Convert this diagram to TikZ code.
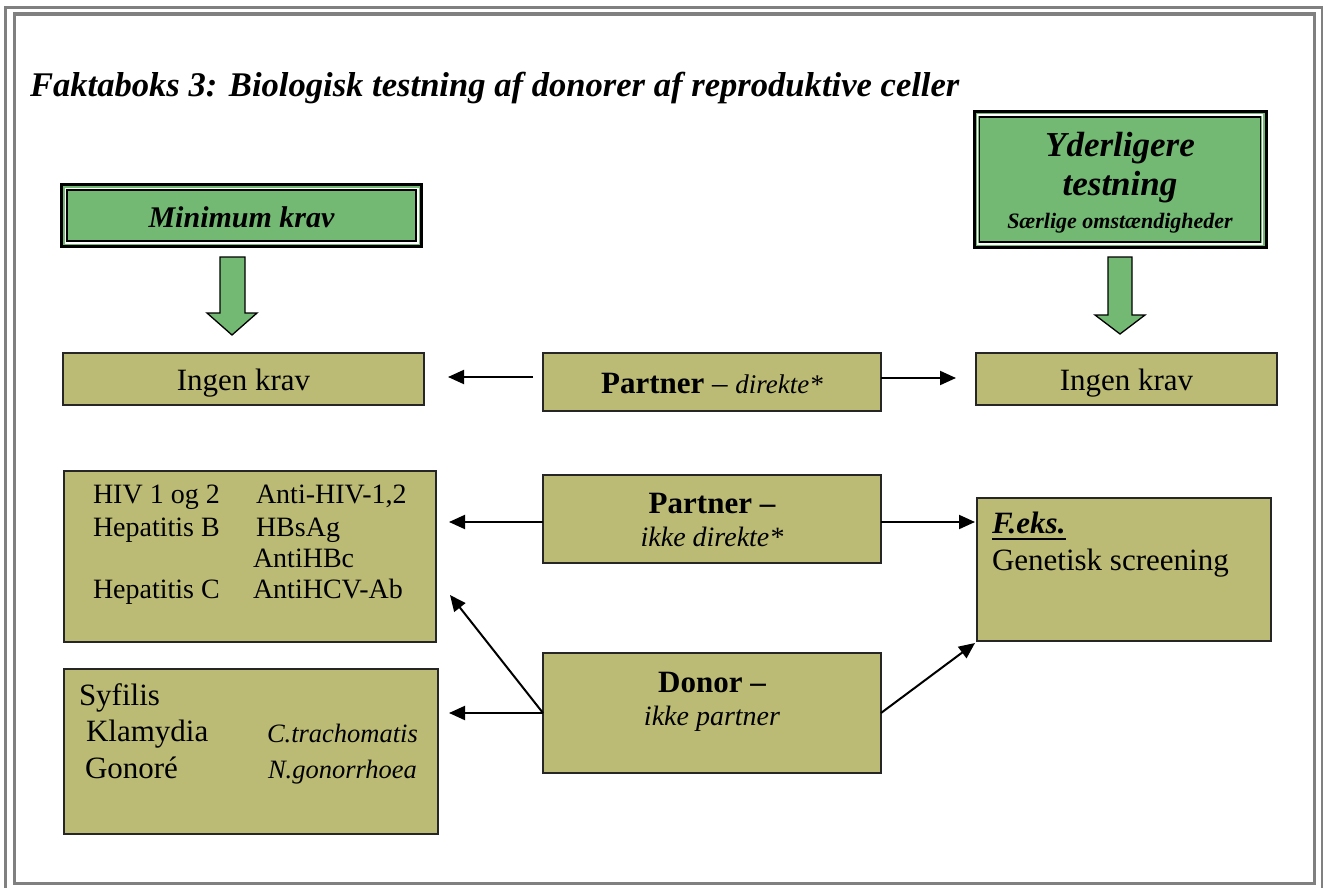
\documentclass[tikz,border=0pt]{standalone}
\usepackage{fontspec}
\setmainfont{Liberation Serif}
\usetikzlibrary{arrows.meta,calc}
\definecolor{olivefill}{RGB}{187,187,117}
\definecolor{greenfill}{RGB}{115,185,116}
\definecolor{framegray}{RGB}{128,128,128}
\newcommand\fsz[1]{\fontsize{#1}{#1}\selectfont}
\begin{document}
\begin{tikzpicture}[x=1pt,y=-1pt,
  olivebox/.style={draw=black!85, line width=1.1pt, fill=olivefill, anchor=north west, inner sep=0pt, outer sep=0pt},
  greenbox/.style={draw=black, line width=3pt, fill=greenfill, anchor=north west, inner sep=0pt, outer sep=0pt},
  txt/.style={inner sep=0pt, outer sep=0pt},
  conn/.style={line width=2pt, -{Triangle[length=16pt,width=14pt]}},
  blockarrow/.style={draw=black, line width=1.3pt, fill=greenfill, line join=miter},
]
\useasboundingbox (0,0) rectangle (1328,888);
% frame
\draw[framegray, line width=2.8pt] (5.5,7.2) rectangle (1322,891);
\draw[framegray, line width=3.2pt] (14.3,14) rectangle (1314.5,883.5);

% title
\node[txt, anchor=base west, font=\fsz{34.6}\bfseries\itshape] (title) at (30,97)
  {Faktaboks 3: Biologisk testning af donorer af reproduktive celler};

% green header boxes
\node[greenbox, minimum width=360pt, minimum height=62pt] (mk) at (61.5,184.5) {};
\draw[white, line width=1.2pt] ([shift={(3.6pt,-3.6pt)}]mk.north west) rectangle ([shift={(-3.6pt,3.6pt)}]mk.south east);
\draw[line width=1.6pt] ([shift={(5.5pt,-5.5pt)}]mk.north west) rectangle ([shift={(-5.5pt,5.5pt)}]mk.south east);
\node[txt, anchor=base, font=\fsz{30}\bfseries\itshape] (mkt) at (241.5,227) {Minimum krav};

\node[greenbox, minimum width=292pt, minimum height=136pt] (yt) at (974,111.5) {};
\draw[white, line width=1.2pt] ([shift={(3.6pt,-3.6pt)}]yt.north west) rectangle ([shift={(-3.6pt,3.6pt)}]yt.south east);
\draw[line width=1.6pt] ([shift={(5.5pt,-5.5pt)}]yt.north west) rectangle ([shift={(-5.5pt,5.5pt)}]yt.south east);
\node[txt, anchor=base, font=\fsz{35}\bfseries\itshape] (yt1) at (1120,157) {Yderligere};
\node[txt, anchor=base, font=\fsz{35}\bfseries\itshape] (yt2) at (1120,195) {testning};
\node[txt, anchor=base, font=\fsz{22}\bfseries\itshape] (yt3) at (1120,228) {Særlige omstændigheder};

% block arrows
\draw[blockarrow] (220,257) -- (245,257) -- (245,313) -- (257,313) -- (232,335) -- (207,313) -- (220,313) -- cycle;
\draw[blockarrow] (1108,257) -- (1132,257) -- (1132,315) -- (1145,315) -- (1120,334) -- (1095,315) -- (1108,315) -- cycle;

% olive boxes
\node[olivebox, minimum width=361pt, minimum height=52pt] (ik1) at (63,353) {};
\node[txt, anchor=base, font=\fsz{31}] (ik1t) at (243.5,390) {Ingen krav};

\node[olivebox, minimum width=338pt, minimum height=58pt] (pd) at (543,353) {};
\node[txt, anchor=base, font=\fsz{31}] (pdt) at (712,393) {\textbf{Partner} – {\fsz{27}\itshape direkte*}};

\node[olivebox, minimum width=301pt, minimum height=52pt] (ik2) at (976,353) {};
\node[txt, anchor=base, font=\fsz{31}] (ik2t) at (1126.5,390) {Ingen krav};

\node[olivebox, minimum width=372pt, minimum height=171pt] (hiv) at (64,471) {};
\node[txt, anchor=base west, font=\fsz{28}] (h1a) at (93,503) {HIV 1 og 2};
\node[txt, anchor=base west, font=\fsz{28}] (h2a) at (93,536) {Hepatitis B};
\node[txt, anchor=base west, font=\fsz{28}] (h4a) at (93,598) {Hepatitis C};
\node[txt, anchor=base west, font=\fsz{28}] (h1b) at (256,503) {Anti-HIV-1,2};
\node[txt, anchor=base west, font=\fsz{28}] (h2b) at (256,536) {HBsAg};
\node[txt, anchor=base west, font=\fsz{28}] (h3b) at (253,567) {AntiHBc};
\node[txt, anchor=base west, font=\fsz{28}] (h4b) at (253,598) {AntiHCV-Ab};

\node[olivebox, minimum width=374pt, minimum height=165pt] (syf) at (64,669) {};
\node[txt, anchor=base west, font=\fsz{31}] (s1) at (79,705) {Syfilis};
\node[txt, anchor=base west, font=\fsz{31}] (s2) at (86,741) {Klamydia};
\node[txt, anchor=base west, font=\fsz{31}] (s3) at (85,778) {Gonoré};
\node[txt, anchor=base west, font=\fsz{26.5}\itshape] (s2b) at (267,742) {C.trachomatis};
\node[txt, anchor=base west, font=\fsz{26.5}\itshape] (s3b) at (268,778) {N.gonorrhoea};

\node[olivebox, minimum width=338pt, minimum height=88pt] (pik) at (543,475) {};
\node[txt, anchor=base, font=\fsz{31}\bfseries] (pik1) at (712,513) {Partner –};
\node[txt, anchor=base, font=\fsz{28}\itshape] (pik2) at (712,546) {ikke direkte*};

\node[olivebox, minimum width=338pt, minimum height=120pt] (don) at (543,653) {};
\node[txt, anchor=base, font=\fsz{31}\bfseries] (don1) at (712,692) {Donor –};
\node[txt, anchor=base, font=\fsz{28}\itshape] (don2) at (712,725) {ikke partner};

\node[olivebox, minimum width=294pt, minimum height=143pt] (feks) at (977,498) {};
\node[txt, anchor=base west, font=\fsz{31}\bfseries\itshape] (feks1) at (992,533) {F.eks.};
\draw[line width=2.6pt] ([yshift=-6pt]feks1.base west) -- ([yshift=-6pt]feks1.base east);
\node[txt, anchor=base west, font=\fsz{31}] (feks2) at (992,570) {Genetisk screening};

% connectors
\coordinate (pikL) at ([yshift=-3pt]pik.west);
\coordinate (pikR) at ([yshift=-3pt]pik.east);
\draw[conn] ([xshift=-10pt,yshift=5pt]pd.west) -- ([xshift=24pt,yshift=2pt]ik1.east);
\draw[conn] ([yshift=4pt]pd.east) -- ([xshift=-20pt,yshift=1pt]ik2.west);
\draw[conn] (pikL) -- ([xshift=13pt]hiv.east |- pikL);
\draw[conn] (pikR) -- ([xshift=-2pt]feks.west |- pikR);
\draw[conn] (don.west) -- ([xshift=11pt]syf.east |- don.west);
\draw[conn] (don.west) -- ([xshift=14pt,yshift=47pt]hiv.south east);
\draw[conn] (don.east) -- ([xshift=-2pt,yshift=-2pt]feks.south west);
\end{tikzpicture}
\end{document}
